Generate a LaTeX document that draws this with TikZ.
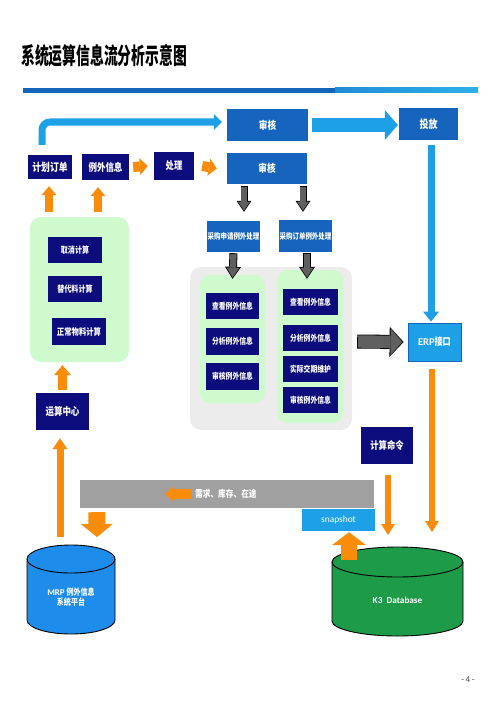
\documentclass[tikz,border=0pt]{standalone}
\usepackage{fontspec}
\setmainfont{Carlito}
\newfontfamily\cjk{Noto Sans CJK SC}[FakeStretch=0.8]
\newfontfamily\cjkt{Noto Sans CJK SC}[FakeStretch=0.6]
\usetikzlibrary{arrows.meta,calc}
\definecolor{navy}{RGB}{12,12,125}
\definecolor{mblue}{RGB}{22,100,190}
\definecolor{lblue}{RGB}{30,160,230}
\definecolor{orng}{RGB}{250,140,10}
\definecolor{pgreen}{RGB}{206,250,206}
\definecolor{pgray}{RGB}{236,236,236}
\definecolor{dgray}{RGB}{95,95,95}
\definecolor{bargray}{RGB}{160,160,160}
\definecolor{cylblue}{RGB}{30,140,235}
\definecolor{cylgreen}{RGB}{30,155,72}
\definecolor{ulA}{RGB}{22,100,185}
\definecolor{ulB}{RGB}{35,140,215}
\definecolor{ulC}{RGB}{45,175,235}
\newcommand\fs[1]{\fontsize{#1}{#1}\selectfont}
\newcommand\ck[1]{\cjk\bfseries\fontsize{#1}{#1}\selectfont}
\newcommand\grayarrow[5]{%
  \pgfmathsetmacro\gaA{#3-1.6}\pgfmathsetmacro\gaB{#4-3.2}\pgfmathsetmacro\gaC{#5-2.2}%
  \draw[black, line width=#3pt, -{Triangle[width=#4pt,length=#5pt,line width=0pt]}] #1 -- #2;
  \draw[dgray, line width=\gaA pt, shorten >=1.3pt, shorten <=0.8pt, -{Triangle[width=\gaB pt,length=\gaC pt,line width=0pt]}] #1 -- #2;}
\tikzset{
  fat/.style n args={3}{line width=#1pt, -{Triangle[width=#2pt,length=#3pt,line width=0pt]}},
  bx/.style n args={2}{minimum width=#1pt, minimum height=#2pt, inner sep=0pt, text=white, align=center},
  navybox/.style={fill=navy},
  bluebox/.style={fill=mblue},
  panel/.style={rounded corners=11pt, inner sep=0pt},
}
\begin{document}
\begin{tikzpicture}[x=1pt,y=-1pt]
\fill[white] (0,0) rectangle (499,706);
\useasboundingbox (0,0) rectangle (499,706);

% title and rule
\node[anchor=west, inner sep=0pt, font=\cjkt\bfseries\fs{23}] (title) at (21,56) {系统运算信息流分析示意图};
\fill[ulA] (23,88) rectangle (336,93);
\shade[left color=ulB, right color=ulC] (335,88) rectangle (478,93);

% panels
\node[panel, fill=pgreen, minimum width=99pt, minimum height=145pt] (gbox) at (79.5,289.5) {};
\node[panel, fill=pgray, minimum width=162pt, minimum height=163pt] (gpanel) at (271,348.5) {};
\node[panel, rounded corners=10pt, fill=pgreen, minimum width=65pt, minimum height=128pt] (g1) at (232.5,339) {};
\node[panel, rounded corners=10pt, fill=pgreen, minimum width=66pt, minimum height=153pt] (g2) at (310,346.5) {};

% top row boxes
\node[bx={44}{24}, navybox, font=\ck{11}] (jh) at (50,167) {计划订单};
\node[bx={47}{26}, navybox, font=\ck{10.6}] (lw) at (105.5,167) {例外信息};
\node[bx={40}{28}, navybox, font=\ck{10.4}] (cl) at (174,166) {处理};
\node[bx={81}{32}, bluebox, font=\ck{10.8}] (sh1) at (267.5,125) {审核};
\node[bx={80}{31}, bluebox, font=\ck{10.8}] (sh2) at (267,168.5) {审核};
\node[bx={59}{32}, bluebox, font=\ck{11.2}] (tf) at (428.5,124) {投放};

% left column
\node[bx={54}{26}, navybox, font=\ck{8.8}] (qx) at (75,250) {取消计算};
\node[bx={54}{26}, navybox, font=\ck{8.8}] (td) at (75,289) {替代料计算};
\node[bx={54}{27}, navybox, font=\ck{9.2}] (zc) at (79,331.5) {正常物料计算};
\node[bx={53}{37}, navybox, font=\ck{10.6}] (ys) at (62.5,411.5) {运算中心};

% middle
\node[bx={53}{31}, bluebox, font=\ck{8.1}] (cq) at (233.5,236.5) {采购申请例外处理};
\node[bx={53}{32}, bluebox, font=\ck{8.1}] (cd) at (305.5,236) {采购订单例外处理};
\node[bx={53}{26}, navybox, font=\ck{8.5}] (l1) at (232.5,306) {查看例外信息};
\node[bx={53}{27}, navybox, font=\ck{8.5}] (l2) at (232.5,341.5) {分析例外信息};
\node[bx={53}{27}, navybox, font=\ck{8.5}] (l3) at (232.5,376.5) {审核例外信息};
\node[bx={55}{26}, navybox, font=\ck{8.5}] (r1) at (310.5,302) {查看例外信息};
\node[bx={55}{26}, navybox, font=\ck{8.5}] (r2) at (310.5,338) {分析例外信息};
\node[bx={55}{26}, navybox, font=\ck{8.5}] (r3) at (310.5,369) {实际交期维护};
\node[bx={55}{26}, navybox, font=\ck{8.5}] (r4) at (310.5,400) {审核例外信息};

% right
\node[bx={53}{38}, fill=lblue, draw=mblue, line width=0.8pt, font=\bfseries\fs{10.4}] (erp) at (434.5,342) {ERP{\ck{10.2}接口}};
\node[bx={52}{37}, navybox, font=\ck{10.4}] (js) at (387,445.5) {计算命令};

% bottom bar
\node[bx={294}{28}, fill=bargray] (bar) at (227,494) {};
\node[anchor=west, inner sep=0pt, text=white, font=\ck{9.6}] (xt) at (195,494) {需求、库存、在途};
\node[bx={73}{22}, fill=lblue, font=\fs{9.4}] (snap) at (338.5,520) {snapshot};

% cylinders
\node[minimum width=88pt, minimum height=88pt, inner sep=0pt] (mrp) at (71,589) {};
\coordinate (mrptop) at (71,545);
\path[fill=cylblue, draw=black, line width=0.9pt]
  (27,559) -- (27,620) arc[start angle=180, end angle=360, x radius=44pt, y radius=14pt]
  -- (115,559) arc[start angle=0, end angle=180, x radius=44pt, y radius=14pt] -- cycle;
\draw[black, line width=0.9pt] (27,559) arc[start angle=180, end angle=360, x radius=44pt, y radius=14pt];
\node[text=white, align=center, inner sep=0pt, font=\bfseries\fs{8.8}] (mrpt) at (71,597) {MRP {\ck{8.8}例外信息}\\[1pt]{\ck{8.8}系统平台}};

\node[minimum width=131pt, minimum height=89pt, inner sep=0pt] (k3) at (397.5,591.5) {};
\coordinate (k3top) at (397.5,547);
\path[fill=cylgreen, draw=black, line width=0.9pt]
  (332,562) -- (332,621) arc[start angle=180, end angle=360, x radius=65.5pt, y radius=15pt]
  -- (463,562) arc[start angle=0, end angle=180, x radius=65.5pt, y radius=15pt] -- cycle;
\draw[black, line width=0.9pt] (332,562) arc[start angle=180, end angle=360, x radius=65.5pt, y radius=15pt];
\node[text=white, inner sep=0pt, font=\bfseries\fs{9.2}] (k3t) at (397.5,600) {K3\ \ Database};

% page number
\node[text=black!70, inner sep=0pt, font=\fs{9}] (pg) at (468,680) {-\,4\,-};

% blue arrows
\draw[lblue, line width=7pt, rounded corners=8pt, -{Triangle[width=16pt,length=8pt,line width=0pt]}]
  ($(jh.north)+(-8,-10)$) |- ($(sh1.west)+(-5,-3)$);
\draw[lblue, fat={14}{30}{13}] ($(sh1.east)+(4,0)$) -- ($(sh1.east -| tf.west)+(-1,0)$);
\draw[lblue, fat={7}{16}{10}] ($(tf.south)+(2.5,5)$) -- ($(erp.north)+(-3.5,-1)$);

% orange arrows
\draw[orng, fat={10}{17}{8}] ($(lw.east)+(4,0)$) -- ($(cl.west)+(-6,0)$);
\draw[orng, fat={10}{17}{8}] ($(cl.east)+(8,0)$) -- ($(sh2.west)+(-10,0)$);
\draw[orng, fat={8}{15}{9}] ($(gbox.north -| jh.south)+(-1,-5)$) -- ($(jh.south)+(-1,7)$);
\draw[orng, fat={8}{15}{9}] ($(gbox.north -| lw.south)+(-7.5,-5)$) -- ($(lw.south)+(-7.5,7)$);
\draw[orng, fat={9}{17}{10}] ($(ys.north)+(0,-3)$) -- ($(gbox.south -| ys.north)+(0,3)$);
\draw[orng, fat={7}{15}{11}] ($(mrptop)+(-11,-8)$) -- ($(ys.south)+(-2.5,8)$);
\draw[orng, fat={17}{32}{13}] ($(bar.south west)+(17,4)$) -- ($(mrptop)+(26,-8)$);
\draw[orng, fat={10}{16}{9}] ($(xt.west)+(-3,0)$) -- ($(xt.west)+(-30,0)$);
\draw[orng, fat={6}{14}{11}] ($(js.south)+(1,11)$) -- ($(k3top)+(-9.5,-12)$);
\draw[orng, fat={6}{14}{11}] ($(erp.south)+(-2.5,8)$) -- ($(k3top)+(34.5,-15)$);
\draw[orng, fat={16}{34}{13}] ($(k3top)+(-48.5,13)$) -- ($(snap.south)+(10.5,1)$);

% gray arrows
\grayarrow{($(sh2.south)+(-23,1.5)$)}{($(cq.north)+(10.5,-9)$)}{7}{15}{11}
\grayarrow{($(sh2.south)+(36,1.5)$)}{($(cd.north)+(-2.5,-8)$)}{7}{15}{11}
\grayarrow{($(cq.south)+(0,1)$)}{($(g1.north)+(0,4)$)}{8}{16}{12}
\grayarrow{($(cd.south)+(1.5,1)$)}{($(g2.north)+(-3,9)$)}{8}{16}{12}
\grayarrow{($(gpanel.east)+(5,-7)$)}{($(erp.west)+(-4,0)$)}{14}{30}{14}
\end{tikzpicture}
\end{document}
